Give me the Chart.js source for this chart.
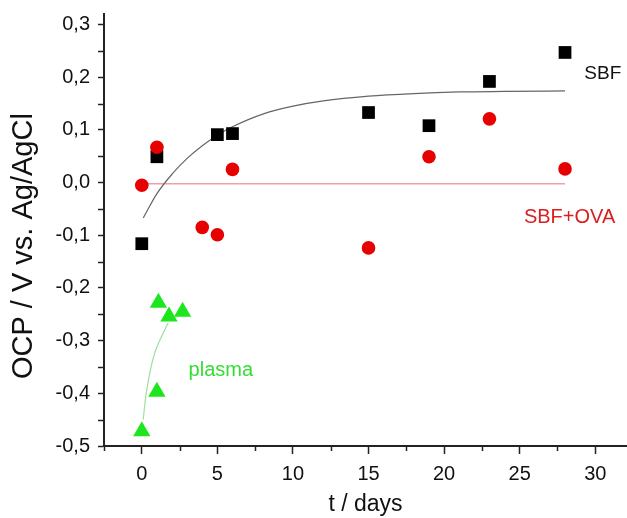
<!DOCTYPE html>
<html><head><meta charset="utf-8">
<script src="https://cdn.jsdelivr.net/npm/chart.js@4/dist/chart.umd.min.js"></script>
<style>html,body{margin:0;padding:0;background:#fff}#wrap{width:627px;height:518px;position:relative}</style>
</head><body><div id="wrap"><canvas id="c"></canvas></div>
<script>
// ---- data ----
const sbfDays = [0, 1, 5, 6, 15, 19, 23, 28];
const sbfOcp = [-0.116, 0.049, 0.091, 0.093, 0.133, 0.108, 0.192, 0.247];
const ovaDays = [0, 1, 4, 5, 6, 15, 19, 23, 28];
const ovaOcp = [-0.005, 0.067, -0.085, -0.099, 0.025, -0.124, 0.049, 0.121, 0.026];
const plasmaDays = [0, 1, 1.1, 1.8, 2.7];
const plasmaOcp = [-0.472, -0.397, -0.228, -0.254, -0.245];
const sbfFitDays = [0.1, 1, 2, 3, 4, 5, 6, 8, 10, 12, 15, 18, 21, 24, 28];
const sbfFitOcp = [-0.067, -0.021, 0.016, 0.046, 0.070, 0.090, 0.106, 0.130, 0.145, 0.155, 0.164, 0.169, 0.172, 0.173, 0.174];
const ovaFitDays = [0, 28];
const ovaFitOcp = [-0.002, -0.002];
const plasmaFitDays = [0.09, 0.27, 0.53, 0.86, 1.31, 1.75];
const plasmaFitOcp = [-0.450, -0.405, -0.361, -0.323, -0.292, -0.266];
const xTicks = [0, 5, 10, 15, 20, 25, 30];
const xMinorTicks = [-2.5, 2.5, 7.5, 12.5, 17.5, 22.5, 27.5];
const yTicks = [-0.5, -0.4, -0.3, -0.2, -0.1, 0, 0.1, 0.2, 0.3];
const yMinorTicks = [-0.45, -0.35, -0.25, -0.15, -0.05, 0.05, 0.15, 0.25];
const seriesNames = ['SBF', 'SBF+OVA', 'plasma'];

const pts = (xs, ys) => xs.map((v, i) => ({x: v, y: ys[i]}));
const FONT = "'Liberation Sans', Arial, sans-serif";

// in-plot series labels (positions in data units)
const seriesLabelPos = [
  {x: 30.5, y: 0.206, color: '#111111', size: 19},
  {x: 28.3, y: -0.067, color: '#d82020', size: 20},
  {x: 5.23, y: -0.356, color: '#33dd33', size: 20}
];

const extras = {
  id: 'extras',
  afterDraw(chart) {
    const {ctx, scales: {x, y}} = chart;
    ctx.save();
    ctx.strokeStyle = '#222';
    ctx.lineWidth = 1.5;
    xMinorTicks.forEach(v => {
      const px = Math.round(x.getPixelForValue(v)) + 0.5;
      ctx.beginPath(); ctx.moveTo(px, x.top); ctx.lineTo(px, x.top + 5); ctx.stroke();
    });
    yMinorTicks.forEach(v => {
      const py = Math.round(y.getPixelForValue(v)) + 0.5;
      ctx.beginPath(); ctx.moveTo(y.right, py); ctx.lineTo(y.right - 6, py); ctx.stroke();
    });
    ctx.textAlign = 'center';
    ctx.textBaseline = 'middle';
    seriesLabelPos.forEach((p, i) => {
      ctx.font = p.size + 'px ' + FONT;
      ctx.fillStyle = p.color;
      ctx.fillText(seriesNames[i], x.getPixelForValue(p.x), y.getPixelForValue(p.y));
    });
    ctx.restore();
  }
};

new Chart(document.getElementById('c'), {
  type: 'scatter',
  data: {
    datasets: [
      {label: seriesNames[1], data: pts(ovaDays, ovaOcp), pointStyle: 'circle', pointRadius: 6.8,
       backgroundColor: '#e60000', borderColor: '#e60000', borderWidth: 0, order: 0},
      {label: seriesNames[0], data: pts(sbfDays, sbfOcp), pointStyle: 'rect', pointRadius: 9,
       backgroundColor: '#000000', borderColor: '#000000', borderWidth: 0, order: 1},
      {label: seriesNames[2], data: pts(plasmaDays, plasmaOcp), pointStyle: 'triangle', pointRadius: 10,
       backgroundColor: '#1ee61e', borderColor: '#1ee61e', borderWidth: 0, order: 2},
      {label: 'SBF fit', data: pts(sbfFitDays, sbfFitOcp), showLine: true, pointRadius: 0,
       borderColor: '#666666', borderWidth: 1.2, cubicInterpolationMode: 'monotone', order: 3},
      {label: 'SBF+OVA fit', data: pts(ovaFitDays, ovaFitOcp), showLine: true, pointRadius: 0,
       borderColor: '#f2a0a0', borderWidth: 1.5, order: 4},
      {label: 'plasma fit', data: pts(plasmaFitDays, plasmaFitOcp), showLine: true, pointRadius: 0,
       borderColor: '#9de09d', borderWidth: 1.2, cubicInterpolationMode: 'monotone', order: 5}
    ]
  },
  options: {
    responsive: true,
    maintainAspectRatio: false,
    animation: false,
    layout: {autoPadding: false, padding: {top: 14, right: 0, bottom: 0, left: 0}},
    plugins: {legend: {display: false}, tooltip: {enabled: false}},
    scales: {
      x: {
        type: 'linear', min: -2.5, max: 32.1,
        afterBuildTicks: s => { s.ticks = xTicks.map(v => ({value: v})); },
        afterFit: s => { s.height = 72; s.paddingLeft = 0; s.paddingRight = 0; },
        grid: {drawOnChartArea: false, drawTicks: true, tickLength: 8, tickColor: '#222', tickWidth: 1.5},
        border: {display: true, color: '#222', width: 2},
        ticks: {font: {family: FONT, size: 20}, color: '#111', padding: 8, maxRotation: 0, autoSkip: false,
                callback: v => String(v)},
        title: {display: true, text: 't / days', font: {family: FONT, size: 23}, color: '#111', padding: {top: 0, bottom: 0}}
      },
      y: {
        type: 'linear', min: -0.5, max: 0.32,
        afterBuildTicks: s => { s.ticks = yTicks.map(v => ({value: v})); },
        afterFit: s => { s.width = 104; s.paddingTop = 0; s.paddingBottom = 0; },
        grid: {drawOnChartArea: false, drawTicks: true, tickLength: 6, tickColor: '#222', tickWidth: 1.5},
        border: {display: true, color: '#222', width: 2},
        ticks: {font: {family: FONT, size: 20}, color: '#111', padding: 8, autoSkip: false,
                callback: v => (Math.abs(v) < 1e-9 ? 0 : v).toFixed(1).replace('.', ',')},
        title: {display: true, text: 'OCP / V vs. Ag/AgCl    ', font: {family: FONT, size: 29}, color: '#111', padding: {top: 7, bottom: 0}}
      }
    }
  },
  plugins: [extras]
});
</script>
</body></html>
